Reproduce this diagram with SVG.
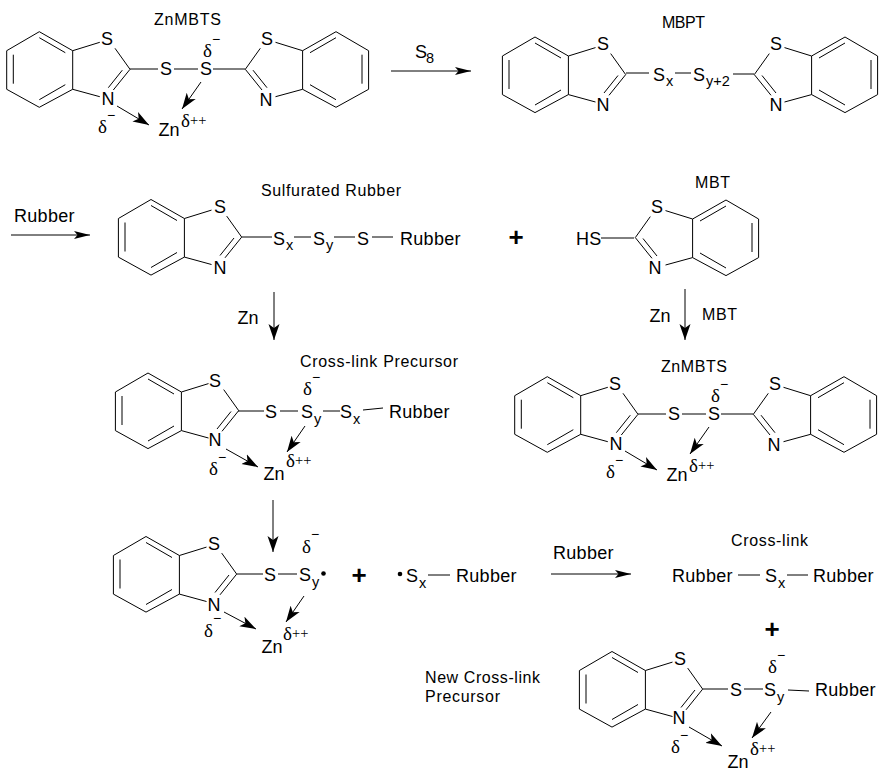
<svg xmlns="http://www.w3.org/2000/svg" width="887" height="777" viewBox="0 0 887 777">
<style>
text{font-family:"Liberation Sans",Arial,sans-serif;fill:#000}
.a{font-size:18px;text-anchor:middle}
.r{font-size:18px;letter-spacing:.3px}
.s{font-size:14.500px}
.l{font-size:16px}
.d{font-size:19px;font-family:"Liberation Serif",serif}
.m{font-size:14px;font-family:"Liberation Sans",sans-serif}
.p{font-size:26px;font-weight:bold;text-anchor:middle}
line,.ring{stroke:#000;stroke-width:1;fill:none}
.arrow{marker-end:url(#h)}
.coord{marker-end:url(#h2)}
</style>
<defs>
<marker id="h" markerUnits="userSpaceOnUse" markerWidth="17" markerHeight="10" refX="16" refY="4" orient="auto" viewBox="0 0 17 8">
<path d="M16 4 L0 0 L3.500 4 L0 8Z" fill="#000"/>
</marker>
<marker id="h2" markerUnits="userSpaceOnUse" markerWidth="17" markerHeight="12" refX="16" refY="5.500" orient="auto" viewBox="0 0 17 11">
<path d="M16 5.500 L0 0 L4 5.500 L0 11Z" fill="#000"/>
</marker>
<g id="bt">
<path class="ring" d="M0 0 L33.400 19 L33.400 57.600 L0 75.600 L-32.600 57.600 L-32.600 19Z"/>
<line x1="0" y1="6" x2="26" y2="21"/>
<line x1="0" y1="68" x2="26" y2="53"/>
<line x1="-26" y1="23" x2="-26" y2="52"/>
<line x1="33.400" y1="19" x2="60.500" y2="10.600"/>
<line x1="75.700" y1="16.600" x2="90.700" y2="37.600"/>
<line x1="90.700" y1="37.600" x2="74" y2="58.300"/>
<line x1="83" y1="38.500" x2="69" y2="56"/>
<line x1="33.400" y1="57.600" x2="60.500" y2="65"/>
</g>
</defs>

<g id="connectors">
<line class="arrow" x1="391" y1="71" x2="471" y2="71"/>
<line class="arrow" x1="11" y1="235" x2="90" y2="235"/>
<line class="coord" x1="274" y1="292" x2="274" y2="340"/>
<line class="coord" x1="685" y1="289" x2="685" y2="340"/>
<line class="coord" x1="273" y1="500" x2="273" y2="552"/>
<line class="arrow" x1="551" y1="574" x2="631" y2="574"/>
<line class="coord" x1="117" y1="106" x2="149" y2="125"/>
<line class="coord" x1="201" y1="82" x2="182" y2="109"/>
<line class="coord" x1="625" y1="451" x2="657" y2="470"/>
<line class="coord" x1="709" y1="427" x2="690" y2="454"/>
<line class="coord" x1="226" y1="449" x2="258" y2="467"/>
<line class="coord" x1="305" y1="426" x2="287" y2="452"/>
<line class="coord" x1="224" y1="612" x2="256" y2="629"/>
<line class="coord" x1="304" y1="596" x2="286" y2="622"/>
<line class="coord" x1="689" y1="727" x2="722" y2="746"/>
<line class="coord" x1="771" y1="712" x2="752" y2="738"/>
</g>

<g id="znmbts-1">
<use href="#bt" x="39.300" y="31.700"/>
<use href="#bt" transform="translate(336 31.700) scale(-1 1)"/>
<text class="a" x="107" y="45">S</text><text class="a" x="108" y="105">N</text>
<text class="a" x="166" y="75">S</text><text class="a" x="206" y="75">S</text>
<text class="a" x="267" y="45">S</text><text class="a" x="266" y="106">N</text>
<line x1="130" y1="69" x2="158" y2="69"/><line x1="174" y1="69" x2="198" y2="69"/><line x1="213" y1="69" x2="245" y2="69"/>
<text class="a" x="169" y="136">Zn</text>
<text class="d" x="181" y="127">δ<tspan class="s" dy="-2">++</tspan></text>
<text class="d" x="98" y="133">δ<tspan class="m" dy="-13">−</tspan></text>
<text class="d" x="203" y="57">δ<tspan class="m" dy="-13">−</tspan></text>
<text class="l" x="154" y="25" textLength="67" lengthAdjust="spacing">ZnMBTS</text>
</g>
<g id="s8-label"><text class="a" x="421" y="58">S</text><text class="s" x="426" y="63">8</text></g>

<g id="mbpt">
<use href="#bt" x="535" y="37"/>
<use href="#bt" transform="translate(845 37) scale(-1 1)"/>
<text class="a" x="603" y="50">S</text><text class="a" x="603" y="111">N</text>
<text class="a" x="776" y="50">S</text><text class="a" x="776" y="111">N</text>
<line x1="626" y1="73" x2="649" y2="73"/>
<text class="a" x="659" y="81">S</text><text class="s" x="666" y="86">x</text>
<line x1="675" y1="73" x2="691" y2="73"/>
<text class="a" x="699" y="81">S</text><text class="s" x="706" y="86">y+2</text>
<line x1="733" y1="74" x2="754" y2="74"/>
<text class="l" x="662" y="28" textLength="43" lengthAdjust="spacing">MBPT</text>
</g>

<g id="rubber-label-1"><text class="r" x="14" y="222">Rubber</text></g>

<g id="sulfurated-rubber">
<use href="#bt" x="151" y="199.500"/>
<text class="a" x="220" y="213">S</text><text class="a" x="220" y="274">N</text>
<line x1="242" y1="237" x2="272" y2="237"/>
<text class="a" x="279" y="245">S</text><text class="s" x="286" y="250">x</text>
<line x1="294" y1="237" x2="311" y2="237"/>
<text class="a" x="319" y="245">S</text><text class="s" x="326" y="250">y</text>
<line x1="334" y1="237" x2="355" y2="237"/>
<text class="a" x="363" y="245">S</text>
<line x1="372" y1="237" x2="393" y2="237"/>
<text class="r" x="400" y="245">Rubber</text>
<text class="l" x="261" y="196" textLength="140" lengthAdjust="spacing">Sulfurated Rubber</text>
</g>

<g id="plus-1"><text class="p" x="516" y="246">+</text></g>

<g id="mbt">
<use href="#bt" transform="translate(726 200) scale(-1 1)"/>
<text class="a" x="657" y="213">S</text><text class="a" x="655" y="274">N</text>
<text class="r" x="576" y="245" letter-spacing="0">HS</text>
<line x1="601" y1="238" x2="634" y2="238"/>
<text class="l" x="695" y="188" textLength="35" lengthAdjust="spacing">MBT</text>
</g>

<g id="zn-label-1"><text class="a" x="248" y="324">Zn</text></g>
<g id="zn-label-2"><text class="a" x="660" y="322">Zn</text></g>
<g id="mbt-label"><text class="l" x="702" y="320" textLength="35" lengthAdjust="spacing">MBT</text></g>

<g id="crosslink-precursor">
<use href="#bt" x="148" y="373"/>
<text class="a" x="215" y="387">S</text><text class="a" x="215" y="446">N</text>
<line x1="238" y1="411" x2="264" y2="411"/>
<text class="a" x="271" y="418">S</text>
<line x1="280" y1="411" x2="298" y2="411"/>
<text class="a" x="307" y="418">S</text><text class="s" x="314" y="424">y</text>
<line x1="323" y1="411" x2="340" y2="411"/>
<text class="a" x="346" y="418">S</text><text class="s" x="353" y="424">x</text>
<line x1="363" y1="410" x2="383" y2="408"/>
<text class="r" x="389" y="418">Rubber</text>
<text class="a" x="274" y="480">Zn</text>
<text class="d" x="286" y="467">δ<tspan class="s" dy="-2">++</tspan></text>
<text class="d" x="209" y="475">δ<tspan class="m" dy="-13">−</tspan></text>
<text class="d" x="303" y="395">δ<tspan class="m" dy="-13">−</tspan></text>
<text class="l" x="300" y="367" textLength="158" lengthAdjust="spacing">Cross-link Precursor</text>
</g>

<g id="znmbts-2">
<use href="#bt" x="547.300" y="376.700"/>
<use href="#bt" transform="translate(844 376.700) scale(-1 1)"/>
<text class="a" x="615" y="390">S</text><text class="a" x="616" y="450">N</text>
<text class="a" x="674" y="420">S</text><text class="a" x="714" y="420">S</text>
<text class="a" x="775" y="390">S</text><text class="a" x="774" y="451">N</text>
<line x1="638" y1="414" x2="666" y2="414"/><line x1="682" y1="414" x2="706" y2="414"/><line x1="721" y1="414" x2="753" y2="414"/>
<text class="a" x="677" y="481">Zn</text>
<text class="d" x="689" y="472">δ<tspan class="s" dy="-2">++</tspan></text>
<text class="d" x="606" y="478">δ<tspan class="m" dy="-13">−</tspan></text>
<text class="d" x="711" y="402">δ<tspan class="m" dy="-13">−</tspan></text>
<text class="l" x="661" y="372" textLength="66" lengthAdjust="spacing">ZnMBTS</text>
</g>

<g id="precursor-radical">
<use href="#bt" x="146" y="536.500"/>
<text class="a" x="214" y="550">S</text><text class="a" x="214" y="611">N</text>
<line x1="237" y1="574" x2="263" y2="574"/>
<text class="a" x="270" y="581">S</text>
<line x1="278" y1="574" x2="297" y2="574"/>
<text class="a" x="305" y="581">S</text><text class="s" x="312" y="587">y</text>
<circle cx="323.500" cy="573.500" r="2.300" fill="#000"/>
<text class="a" x="272" y="653">Zn</text>
<text class="d" x="283" y="640">δ<tspan class="s" dy="-2">++</tspan></text>
<text class="d" x="204" y="637">δ<tspan class="m" dy="-14">−</tspan></text>
<text class="d" x="302" y="553">δ<tspan class="m" dy="-14">−</tspan></text>
</g>

<g id="plus-2"><text class="p" x="359" y="584">+</text></g>

<g id="rubber-radical">
<circle cx="400" cy="574" r="2.300" fill="#000"/>
<text class="a" x="412" y="582">S</text><text class="s" x="419" y="588">x</text>
<line x1="428" y1="575" x2="450" y2="575"/>
<text class="r" x="456" y="582">Rubber</text>
</g>

<g id="rubber-label-2"><text class="r" x="553" y="559">Rubber</text></g>

<g id="crosslink">
<text class="r" x="672" y="582">Rubber</text>
<line x1="738" y1="575" x2="760" y2="575"/>
<text class="a" x="771" y="582">S</text><text class="s" x="778" y="588">x</text>
<line x1="787" y1="575" x2="808" y2="575"/>
<text class="r" x="813" y="582">Rubber</text>
<text class="l" x="731" y="546" textLength="77" lengthAdjust="spacing">Cross-link</text>
</g>

<g id="plus-3"><text class="p" x="772" y="638">+</text></g>

<g id="new-precursor-label">
<text class="l" x="425" y="683" textLength="115" lengthAdjust="spacing">New Cross-link</text>
<text class="l" x="425" y="702" textLength="75" lengthAdjust="spacing">Precursor</text>
</g>

<g id="new-crosslink-precursor">
<use href="#bt" x="612" y="651.500"/>
<text class="a" x="680" y="665">S</text><text class="a" x="679" y="724">N</text>
<line x1="703" y1="689" x2="728" y2="689"/>
<text class="a" x="736" y="696">S</text>
<line x1="744" y1="689" x2="763" y2="689"/>
<text class="a" x="770" y="696">S</text><text class="s" x="777" y="702">y</text>
<line x1="788" y1="690" x2="809" y2="691"/>
<text class="r" x="815" y="696">Rubber</text>
<text class="a" x="738" y="768">Zn</text>
<text class="d" x="750" y="755">δ<tspan class="s" dy="-2">++</tspan></text>
<text class="d" x="671" y="753">δ<tspan class="m" dy="-13">−</tspan></text>
<text class="d" x="768" y="673">δ<tspan class="m" dy="-13">−</tspan></text>
</g>
</svg>
